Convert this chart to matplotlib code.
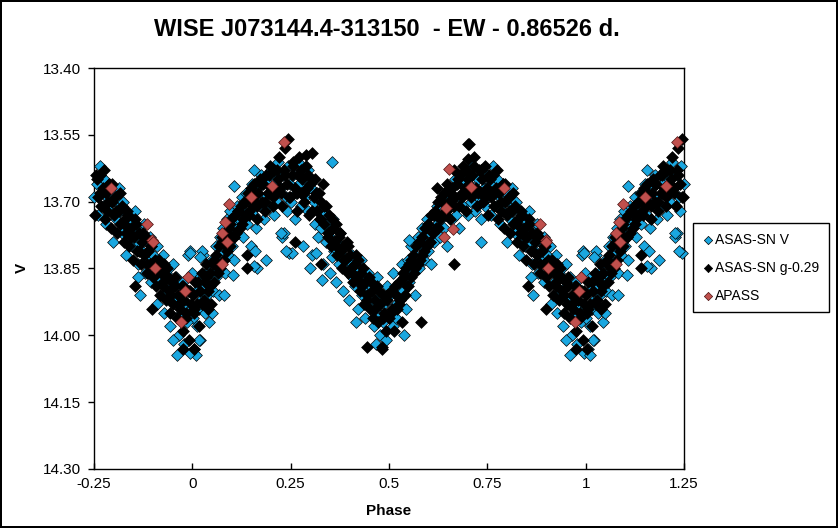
import numpy as np
import matplotlib.pyplot as plt

plt.rcParams['font.family'] = ['Liberation Sans', 'DejaVu Sans']

# ---- data (one cycle, phase 0..1) ----
# ASAS-SN V
phase_v = [
    0.002, 0.005, 0.009, 0.011, 0.014, 0.016, 0.020, 0.022, 0.026, 0.028,
    0.031, 0.035, 0.037, 0.041, 0.043, 0.046, 0.050, 0.052, 0.055, 0.059,
    0.061, 0.064, 0.068, 0.070, 0.073, 0.077, 0.079, 0.082, 0.086, 0.088,
    0.091, 0.095, 0.097, 0.101, 0.104, 0.107, 0.113, 0.116, 0.119, 0.125,
    0.128, 0.131, 0.137, 0.140, 0.143, 0.149, 0.151, 0.156, 0.161, 0.163,
    0.168, 0.173, 0.175, 0.181, 0.184, 0.187, 0.193, 0.195, 0.201, 0.204,
    0.207, 0.213, 0.215, 0.219, 0.225, 0.228, 0.231, 0.237, 0.240, 0.243,
    0.249, 0.251, 0.255, 0.261, 0.263, 0.269, 0.272, 0.275, 0.281, 0.284,
    0.287, 0.293, 0.295, 0.301, 0.303, 0.309, 0.311, 0.317, 0.319, 0.325,
    0.327, 0.333, 0.335, 0.341, 0.343, 0.349, 0.351, 0.357, 0.359, 0.365,
    0.367, 0.373, 0.375, 0.381, 0.383, 0.389, 0.391, 0.397, 0.399, 0.405,
    0.407, 0.413, 0.415, 0.421, 0.423, 0.429, 0.431, 0.437, 0.439, 0.445,
    0.447, 0.453, 0.455, 0.461, 0.463, 0.469, 0.471, 0.477, 0.479, 0.485,
    0.487, 0.493, 0.495, 0.501, 0.503, 0.509, 0.511, 0.517, 0.519, 0.525,
    0.527, 0.533, 0.535, 0.541, 0.543, 0.549, 0.551, 0.557, 0.559, 0.565,
    0.567, 0.573, 0.575, 0.581, 0.583, 0.589, 0.591, 0.597, 0.599, 0.605,
    0.607, 0.613, 0.615, 0.621, 0.623, 0.629, 0.631, 0.637, 0.639, 0.645,
    0.647, 0.653, 0.655, 0.661, 0.663, 0.669, 0.671, 0.677, 0.679, 0.685,
    0.687, 0.693, 0.695, 0.701, 0.703, 0.709, 0.711, 0.717, 0.719, 0.725,
    0.727, 0.733, 0.735, 0.741, 0.743, 0.749, 0.751, 0.757, 0.759, 0.765,
    0.767, 0.773, 0.775, 0.781, 0.783, 0.789, 0.791, 0.797, 0.799, 0.805,
    0.807, 0.813, 0.815, 0.821, 0.823, 0.829, 0.831, 0.837, 0.839, 0.845,
    0.847, 0.853, 0.855, 0.861, 0.863, 0.869, 0.871, 0.877, 0.879, 0.885,
    0.887, 0.893, 0.895, 0.901, 0.903, 0.909, 0.911, 0.917, 0.919, 0.925,
    0.927, 0.933, 0.935, 0.941, 0.943, 0.949, 0.951, 0.957, 0.959, 0.965,
    0.967, 0.972, 0.976, 0.979, 0.984, 0.987, 0.991, 0.995, 0.997, 0.999,
    0.862, 0.866, 0.990, 0.994,
]
mag_v = [
    13.96, 14.03, 13.90, 13.98, 13.87, 13.94, 14.01, 13.92, 13.82, 13.89,
    13.95, 13.86, 13.91, 13.84, 13.97, 13.88, 13.83, 13.90, 13.86, 13.80,
    13.87, 13.83, 13.91, 13.78, 13.84, 13.81, 13.76, 13.86, 13.79, 13.74,
    13.82, 13.77, 13.72, 13.80, 13.75, 13.83, 13.71, 13.77, 13.74, 13.69,
    13.78, 13.72, 13.68, 13.75, 13.70, 13.80, 13.66, 13.73, 13.69, 13.76,
    13.67, 13.71, 13.64, 13.74, 13.69, 13.83, 13.66, 13.71, 13.63, 13.68,
    13.73, 13.65, 13.70, 13.61, 13.67, 13.78, 13.64, 13.69, 13.72, 13.62,
    13.66, 13.70, 13.64, 13.74, 13.68, 13.61, 13.66, 13.71, 13.80, 13.65,
    13.69, 13.63, 13.72, 13.67, 13.82, 13.70, 13.75, 13.68, 13.78, 13.72,
    13.76, 13.84, 13.73, 13.79, 13.75, 13.86, 13.78, 13.74, 13.81, 13.88,
    13.79, 13.84, 13.77, 13.82, 13.90, 13.80, 13.85, 13.83, 13.92, 13.87,
    13.82, 13.89, 13.85, 13.94, 13.88, 13.83, 13.91, 13.87, 13.96, 13.90,
    13.86, 13.93, 13.89, 13.98, 13.92, 13.87, 13.95, 14.00, 13.91, 13.97,
    13.93, 14.01, 13.89, 13.95, 13.91, 13.98, 13.86, 13.93, 13.96, 13.89,
    13.92, 13.84, 13.90, 13.87, 13.94, 13.83, 13.88, 13.80, 13.86, 13.91,
    13.82, 13.78, 13.85, 13.80, 13.76, 13.83, 13.79, 13.74, 13.81, 13.77,
    13.84, 13.73, 13.79, 13.75, 13.71, 13.78, 13.74, 13.69, 13.76, 13.72,
    13.80, 13.70, 13.67, 13.74, 13.71, 13.65, 13.73, 13.69, 13.76, 13.66,
    13.71, 13.64, 13.68, 13.73, 13.66, 13.70, 13.62, 13.67, 13.72, 13.65,
    13.69, 13.63, 13.74, 13.67, 13.71, 13.64, 13.69, 13.66, 13.73, 13.62,
    13.68, 13.71, 13.65, 13.75, 13.69, 13.66, 13.72, 13.68, 13.79, 13.70,
    13.74, 13.67, 13.72, 13.77, 13.70, 13.75, 13.82, 13.73, 13.78, 13.74,
    13.80, 13.76, 13.72, 13.79, 13.84, 13.77, 13.81, 13.75, 13.86, 13.79,
    13.83, 13.78, 13.88, 13.82, 13.85, 13.80, 13.93, 13.84, 13.88, 13.82,
    13.95, 13.86, 13.90, 13.85, 13.98, 13.89, 13.84, 13.92, 13.87, 14.00,
    13.91, 13.95, 13.88, 14.02, 13.93, 13.97, 13.90, 14.04, 13.94, 13.86,
    13.87, 13.91, 13.82, 13.81,
]
# V points lying away from the main band
phase_v_out = [0.160, 0.165, 0.233, 0.245, 0.253, 0.300, 0.330, 0.315,
               0.355, 0.354, 0.416, 0.467, 0.538, 0.550, 0.733, 0.995,
               0.025, 0.020, 0.107, 0.157, 0.226, 0.238, 0.157, 0.104,
               0.081, 0.050, 0.950, 0.960, 0.010, 0.018]
mag_v_out = [13.81, 13.85, 13.77, 13.815, 13.815, 13.85, 13.875, 13.815,
             13.825, 13.61, 13.97, 14.02, 14.00, 13.785, 13.79, 13.815,
             13.81, 13.825, 13.665, 13.63, 13.77, 13.81, 13.845, 13.865,
             13.91, 13.95, 14.01, 14.045, 14.045, 14.01]

# ASAS-SN g shifted by -0.29
phase_g = [
    0.001, 0.004, 0.007, 0.012, 0.017, 0.019, 0.024, 0.029, 0.033, 0.036,
    0.039, 0.044, 0.048, 0.053, 0.056, 0.060, 0.065, 0.068, 0.071, 0.076,
    0.080, 0.085, 0.088, 0.092, 0.096, 0.099, 0.105, 0.108, 0.112, 0.117,
    0.121, 0.124, 0.129, 0.132, 0.136, 0.141, 0.144, 0.148, 0.153, 0.156,
    0.159, 0.165, 0.168, 0.172, 0.177, 0.180, 0.185, 0.188, 0.192, 0.197,
    0.200, 0.205, 0.208, 0.212, 0.217, 0.220, 0.224, 0.229, 0.232, 0.236,
    0.241, 0.244, 0.248, 0.253, 0.256, 0.260, 0.265, 0.268, 0.272, 0.277,
    0.280, 0.285, 0.288, 0.292, 0.297, 0.300, 0.304, 0.309, 0.312, 0.316,
    0.321, 0.324, 0.328, 0.333, 0.336, 0.340, 0.345, 0.348, 0.352, 0.357,
    0.360, 0.365, 0.368, 0.372, 0.377, 0.380, 0.384, 0.389, 0.392, 0.396,
    0.401, 0.404, 0.408, 0.413, 0.416, 0.420, 0.425, 0.428, 0.432, 0.437,
    0.440, 0.445, 0.448, 0.452, 0.457, 0.460, 0.464, 0.469, 0.472, 0.476,
    0.481, 0.484, 0.488, 0.493, 0.496, 0.500, 0.505, 0.508, 0.512, 0.517,
    0.520, 0.525, 0.528, 0.532, 0.537, 0.540, 0.544, 0.549, 0.552, 0.556,
    0.561, 0.564, 0.568, 0.573, 0.576, 0.580, 0.585, 0.588, 0.592, 0.597,
    0.600, 0.605, 0.608, 0.612, 0.617, 0.620, 0.624, 0.629, 0.632, 0.636,
    0.641, 0.644, 0.648, 0.653, 0.656, 0.660, 0.665, 0.668, 0.672, 0.677,
    0.680, 0.685, 0.688, 0.692, 0.697, 0.700, 0.704, 0.709, 0.712, 0.716,
    0.721, 0.724, 0.728, 0.733, 0.736, 0.740, 0.745, 0.748, 0.752, 0.757,
    0.760, 0.765, 0.768, 0.772, 0.777, 0.780, 0.784, 0.789, 0.792, 0.796,
    0.801, 0.804, 0.808, 0.813, 0.816, 0.820, 0.825, 0.828, 0.832, 0.837,
    0.840, 0.845, 0.848, 0.852, 0.857, 0.860, 0.864, 0.869, 0.872, 0.876,
    0.881, 0.884, 0.888, 0.893, 0.896, 0.900, 0.905, 0.908, 0.912, 0.917,
    0.920, 0.925, 0.928, 0.932, 0.937, 0.940, 0.944, 0.949, 0.952, 0.956,
    0.961, 0.964, 0.968, 0.973, 0.976, 0.980, 0.985, 0.988, 0.992, 0.997,
    0.853, 0.898,
]
mag_g = [
    13.91, 13.95, 13.88, 13.93, 13.98, 13.90, 13.86, 13.92, 13.88, 13.84,
    13.90, 13.86, 13.93, 13.84, 13.88, 13.82, 13.86, 13.80, 13.85, 13.79,
    13.83, 13.77, 13.81, 13.76, 13.80, 13.74, 13.78, 13.73, 13.77, 13.72,
    13.76, 13.71, 13.74, 13.70, 13.73, 13.68, 13.72, 13.67, 13.71, 13.66,
    13.70, 13.74, 13.68, 13.65, 13.70, 13.66, 13.72, 13.64, 13.68, 13.62,
    13.67, 13.71, 13.63, 13.68, 13.65, 13.60, 13.67, 13.71, 13.63, 13.58,
    13.66, 13.56, 13.69, 13.64, 13.61, 13.67, 13.72, 13.64, 13.60, 13.68,
    13.65, 13.70, 13.62, 13.67, 13.73, 13.66, 13.59, 13.69, 13.65, 13.72,
    13.68, 13.74, 13.70, 13.66, 13.75, 13.71, 13.77, 13.73, 13.80, 13.76,
    13.79, 13.75, 13.82, 13.78, 13.81, 13.85, 13.80, 13.83, 13.79, 13.86,
    13.82, 13.85, 13.88, 13.84, 13.87, 13.83, 13.90, 13.86, 13.89, 13.93,
    13.88, 13.91, 13.87, 13.94, 13.90, 13.96, 13.92, 13.89, 13.97, 13.93,
    14.03, 13.91, 13.95, 13.99, 13.92, 13.96, 13.90, 13.94, 13.99, 13.91,
    13.94, 13.88, 13.92, 13.97, 13.87, 13.91, 13.85, 13.89, 13.84, 13.87,
    13.82, 13.86, 13.80, 13.84, 13.79, 13.83, 13.78, 13.81, 13.76, 13.80,
    13.75, 13.79, 13.73, 13.77, 13.72, 13.76, 13.70, 13.74, 13.69, 13.73,
    13.68, 13.72, 13.66, 13.70, 13.74, 13.67, 13.63, 13.69, 13.66, 13.71,
    13.64, 13.68, 13.62, 13.67, 13.72, 13.65, 13.57, 13.69, 13.64, 13.60,
    13.67, 13.71, 13.63, 13.68, 13.65, 13.70, 13.62, 13.67, 13.73, 13.65,
    13.69, 13.64, 13.71, 13.67, 13.74, 13.68, 13.72, 13.66, 13.76, 13.70,
    13.73, 13.69, 13.77, 13.72, 13.75, 13.71, 13.79, 13.74, 13.77, 13.73,
    13.80, 13.76, 13.83, 13.78, 13.75, 13.81, 13.77, 13.84, 13.79, 13.82,
    13.78, 13.86, 13.81, 13.84, 13.80, 13.87, 13.83, 13.89, 13.85, 13.91,
    13.86, 13.88, 13.84, 13.92, 13.87, 13.90, 13.95, 13.88, 13.93, 13.89,
    13.96, 13.91, 13.94, 13.89, 13.99, 13.92, 13.96, 13.90, 14.01, 13.93,
    13.89, 13.94,
]
# more g points filling the dense core
phase_g2 = [
    0.005, 0.015, 0.025, 0.035, 0.045, 0.055, 0.065, 0.075, 0.085, 0.095,
    0.105, 0.115, 0.125, 0.135, 0.145, 0.155, 0.165, 0.175, 0.185, 0.195,
    0.205, 0.215, 0.225, 0.235, 0.245, 0.255, 0.265, 0.275, 0.285, 0.295,
    0.305, 0.315, 0.325, 0.335, 0.345, 0.355, 0.365, 0.375, 0.385, 0.395,
    0.405, 0.415, 0.425, 0.435, 0.445, 0.455, 0.465, 0.475, 0.485, 0.495,
    0.505, 0.515, 0.525, 0.535, 0.545, 0.555, 0.565, 0.575, 0.585, 0.595,
    0.605, 0.615, 0.625, 0.635, 0.645, 0.655, 0.665, 0.675, 0.685, 0.695,
    0.705, 0.715, 0.725, 0.735, 0.745, 0.755, 0.765, 0.775, 0.785, 0.795,
    0.805, 0.815, 0.825, 0.835, 0.845, 0.855, 0.865, 0.875, 0.885, 0.895,
    0.905, 0.915, 0.925, 0.935, 0.945, 0.955, 0.965, 0.975, 0.985, 0.995,
    0.140, 0.140, 0.260, 0.328, 0.290, 0.444, 0.482, 0.581, 0.665, 0.700,
    0.700, 0.622, 0.040, 0.975, 0.003,
]
mag_g2 = [
    13.94, 13.88, 13.93, 13.87, 13.89, 13.83, 13.85, 13.78, 13.80, 13.75,
    13.78, 13.72, 13.75, 13.70, 13.73, 13.68, 13.71, 13.66, 13.70, 13.64,
    13.69, 13.63, 13.68, 13.64, 13.69, 13.62, 13.68, 13.63, 13.68, 13.64,
    13.72, 13.68, 13.74, 13.71, 13.78, 13.74, 13.80, 13.77, 13.83, 13.80,
    13.86, 13.82, 13.88, 13.85, 13.92, 13.88, 13.94, 13.90, 13.96, 13.91,
    13.95, 13.89, 13.93, 13.86, 13.89, 13.83, 13.85, 13.79, 13.82, 13.76,
    13.79, 13.73, 13.76, 13.70, 13.73, 13.68, 13.71, 13.65, 13.69, 13.63,
    13.68, 13.62, 13.68, 13.63, 13.69, 13.64, 13.68, 13.63, 13.70, 13.66,
    13.72, 13.68, 13.75, 13.72, 13.78, 13.74, 13.81, 13.77, 13.84, 13.80,
    13.86, 13.83, 13.89, 13.85, 13.91, 13.87, 13.93, 13.89, 13.95, 13.90,
    13.82, 13.85, 13.79, 13.84, 13.595, 14.026, 14.026, 13.97, 13.84, 13.57,
    13.605, 13.67, 13.94, 14.03, 14.03,
]

# APASS
phase_a = [0.076, 0.076, 0.084, 0.088, 0.094, 0.150, 0.203, 0.232,
           0.640, 0.645, 0.652, 0.662, 0.708, 0.792, 0.885, 0.898,
           0.900, 0.905, 0.972, 0.982, 0.988]
mag_a = [13.77, 13.84, 13.745, 13.79, 13.705, 13.69, 13.665, 13.565,
         13.78, 13.715, 13.626, 13.762, 13.666, 13.67, 13.75, 13.785,
         13.79, 13.85, 13.97, 13.90, 13.87]

x_ticks = [-0.25, 0, 0.25, 0.5, 0.75, 1, 1.25]
x_labels = ['-0.25', '0', '0.25', '0.5', '0.75', '1', '1.25']
y_ticks = [13.40, 13.55, 13.70, 13.85, 14.00, 14.15, 14.30]


def wrap(ph, mag):
    # phased data drawn over -0.25..1.25, as in the original sheet
    ph = np.asarray(ph)
    mag = np.asarray(mag)
    x = np.concatenate([ph, ph - 1, ph + 1])
    y = np.concatenate([mag, mag, mag])
    keep = (x >= -0.25) & (x <= 1.25)
    return x[keep], y[keep]


fig = plt.figure(figsize=(8.38, 5.28), dpi=100)
fig.patch.set_edgecolor('black')
fig.patch.set_linewidth(1.5)
ax = fig.add_axes([94 / 838, 1 - 469 / 528, 590 / 838, 401 / 528])

ms = 36
xv, yv = wrap(phase_v + phase_v_out, mag_v + mag_v_out)
ax.scatter(xv, yv, marker='D', s=ms, c='#1AA7E0', edgecolors='black',
           linewidths=0.5, label='ASAS-SN V', clip_on=False, zorder=3)
xg, yg = wrap(phase_g + phase_g2, mag_g + mag_g2)
ax.scatter(xg, yg, marker='D', s=ms, c='black', edgecolors='black',
           linewidths=0.5, label='ASAS-SN g-0.29', clip_on=False, zorder=4)
xa, ya = wrap(phase_a, mag_a)
ax.scatter(xa, ya, marker='D', s=ms, c='#C0504D', edgecolors='#4a1010',
           linewidths=0.5, label='APASS', clip_on=False, zorder=5)

ax.set_xlim(-0.25, 1.25)
ax.set_ylim(14.30, 13.40)
ax.set_xticks(x_ticks)
ax.set_xticklabels(x_labels)
ax.set_yticks(y_ticks)
ax.set_yticklabels([f'{t:.2f}' for t in y_ticks])
ax.tick_params(axis='x', direction='in', length=4.5, width=1, pad=6,
               labelsize=11)
ax.tick_params(axis='y', direction='out', length=4.5, width=1, pad=5,
               labelsize=11)
for sp in ax.spines.values():
    sp.set_linewidth(1)

fig.text(387 / 838, 1 - 30 / 528, 'WISE J073144.4-313150  - EW - 0.86526 d.',
         ha='center', va='center', fontsize=17, fontweight='bold')
fig.text(389 / 838, 1 - 511 / 528, 'Phase', ha='center', va='center',
         fontsize=11, fontweight='bold')
fig.text(22 / 838, 1 - 268 / 528, 'V', ha='center', va='center',
         fontsize=11, fontweight='bold', rotation=90)

leg = ax.legend(loc='upper left', bbox_to_anchor=(693 / 838, 1 - 223 / 528),
                bbox_transform=fig.transFigure, fancybox=False, framealpha=1,
                edgecolor='black', fontsize=10, borderpad=0.7,
                labelspacing=1.0, handlelength=0.7, handletextpad=0.2,
                borderaxespad=0, markerscale=0.7)
leg.get_frame().set_linewidth(1)

fig.savefig('out.png', dpi=100)
